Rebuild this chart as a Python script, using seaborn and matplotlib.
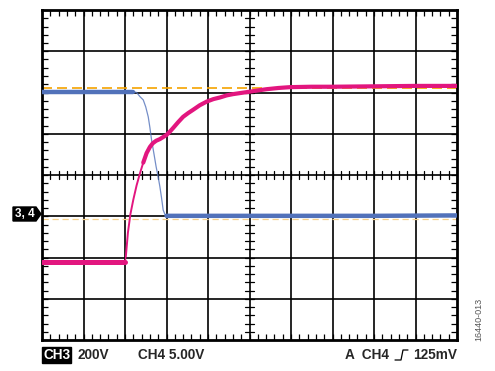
import numpy as np
import matplotlib
matplotlib.use("Agg")
import matplotlib.pyplot as plt
import seaborn as sns

# traces in screen divisions (x: 0..10 div, y: -4..4 div)
ch3_t = [0.0, 1.98, 2.0, 2.02, 2.07, 2.13, 2.2, 2.28, 2.36, 2.44, 2.52, 2.6, 2.67,
         2.75, 2.84, 2.92, 3.0, 3.08, 3.16, 3.28, 3.4, 3.52, 3.64, 3.8, 3.97, 4.13,
         4.29, 4.45, 4.6, 4.8, 5.01, 5.2, 5.41, 5.7, 5.98, 6.5, 7.0, 8.0, 9.0, 10.0]
ch3_v = [-2.11, -2.11, -2.11, -1.98, -1.4, -0.95, -0.6, -0.25, 0.04, 0.3, 0.53, 0.68, 0.77,
         0.83, 0.87, 0.92, 0.97, 1.05, 1.14, 1.28, 1.41, 1.5, 1.58, 1.69, 1.78, 1.84,
         1.88, 1.93, 1.96, 1.99, 2.02, 2.05, 2.08, 2.11, 2.13, 2.14, 2.14, 2.15, 2.16, 2.16]

ch4_t = [0.0, 2.2, 2.28, 2.36, 2.44, 2.5, 2.56, 2.6, 2.64, 2.7, 2.75, 2.8, 2.84, 2.88,
         2.92, 2.96, 3.0, 4.0, 6.0, 8.0, 10.0]
ch4_v = [2.02, 2.02, 2.0, 1.9, 1.82, 1.65, 1.41, 1.15, 0.85, 0.5, 0.2, -0.05, -0.28, -0.55,
         -0.85, -0.95, -0.99, -0.99, -0.99, -0.99, -0.98]

ch4_ref = 2.1      # orange dashed reference
ch3_ref = -1.07    # light yellow dashed reference

sns.set_style("white")
plt.rcParams['font.family'] = ['Liberation Sans', 'DejaVu Sans']

fig = plt.figure(figsize=(4.95, 3.71), dpi=100)
ax = fig.add_axes([42 / 495, 31 / 371, 415 / 495, 330 / 371])

magenta = "#E2167F"
blue = "#5272BA"

# grid
for gx in range(1, 10):
    ax.axvline(gx, color="black", lw=1.2, zorder=1)
for gy in range(-3, 4):
    ax.axhline(gy, color="black", lw=1.2, zorder=1)

# minor ticks on the centre cross
for m in np.arange(0, 10.01, 0.2):
    ax.axvline(m, ymin=0.488, ymax=0.512, color="black", lw=0.9, zorder=1)
for m in np.arange(-4, 4.01, 0.2):
    ax.axhline(m, xmin=0.49, xmax=0.51, color="black", lw=0.9, zorder=1)

# reference lines
ax.axhline(ch4_ref, color="#F5A300", lw=1.2, ls=(0, (6, 3)), zorder=2)
ax.axhline(ch3_ref, color="#F7D08A", lw=0.9, ls=(0, (5, 3)), zorder=2)

# CH4 (blue)
t4 = np.array(ch4_t); v4 = np.array(ch4_v)
flat1 = t4 <= 2.2
flat2 = t4 >= 3.0
mid = (t4 >= 2.2) & (t4 <= 3.0)
sns.lineplot(x=t4[flat1], y=v4[flat1], ax=ax, color=blue, lw=3.2, estimator=None, sort=False, zorder=3)
sns.lineplot(x=t4[mid], y=v4[mid], ax=ax, color=blue, lw=0.9, alpha=0.8,
             estimator=None, sort=False, zorder=3)
sns.lineplot(x=t4[flat2], y=v4[flat2], ax=ax, color=blue, lw=3.2, estimator=None, sort=False, zorder=3)

# CH3 (magenta)
t3 = np.array(ch3_t); v3 = np.array(ch3_v)
sns.lineplot(x=t3[:3], y=v3[:3], ax=ax, color=magenta, lw=3.6, estimator=None, sort=False, zorder=4)
rise = (t3 >= 2.0) & (t3 <= 2.52)
sns.lineplot(x=t3[rise][1:], y=v3[rise][1:], ax=ax, color=magenta, lw=1.4, estimator=None, sort=False, zorder=4)
sns.lineplot(x=[2.0, 2.0], y=[v3[2], v3[3]], ax=ax, color=magenta, lw=1.0, estimator=None, sort=False, zorder=4)
rest = t3 >= 2.44
sns.lineplot(x=t3[rest], y=v3[rest], ax=ax, color=magenta, lw=3.0, estimator=None, sort=False, zorder=4)

ax.set_xlim(0, 10)
ax.set_ylim(-4, 4)
ax.set_xticks(np.arange(0, 10.01, 0.2))
ax.set_yticks(np.arange(-4, 4.01, 0.2))
ax.set_xticklabels([])
ax.set_yticklabels([])
ax.tick_params(direction="in", length=4, width=0.9, color="black",
               top=True, right=True, bottom=True, left=True)
for s in ax.spines.values():
    s.set_color("black")
    s.set_linewidth(2)
    s.set_visible(True)

# channel marker "3, 4"
mx = np.array([13, 36, 41, 36, 13]) / 495
my = 1 - np.array([207, 207, 214, 221, 221]) / 371
fig.add_artist(plt.Polygon(np.column_stack([mx, my]), closed=True, fc="black", ec="black"))
fig.text(25 / 495, 1 - 214 / 371, "3, 4", ha="center", va="center", color="white",
         fontsize=8.5, fontweight="bold")

# footer
fy = 1 - 355 / 371
fs = 9.8
fig.text(43 / 495, fy, "CH3", ha="left", va="center", color="white", fontsize=fs,
         fontweight="bold", bbox=dict(boxstyle="square,pad=0.08", fc="black", ec="black"))
fig.text(78 / 495, fy, "200V", ha="left", va="center", fontsize=fs, fontweight="bold")
fig.text(138 / 495, fy, "CH4 5.00V", ha="left", va="center", fontsize=fs, fontweight="bold")
fig.text(345 / 495, fy, "A  CH4", ha="left", va="center", fontsize=fs, fontweight="bold")
fig.text(457 / 495, fy, "125mV", ha="right", va="center", fontsize=fs, fontweight="bold")
# trigger edge symbol
sym_x = np.array([395, 401, 403, 408]) / 495
sym_y = 1 - np.array([360, 360, 350, 350]) / 371
fig.add_artist(plt.Line2D(sym_x, sym_y, color="black", lw=0.9))

fig.text(479 / 495, 1 - 341 / 371, "16440-013", rotation=90, ha="center", va="bottom",
         fontsize=6.5, color="#555555")

fig.savefig("out.png", dpi=100)
